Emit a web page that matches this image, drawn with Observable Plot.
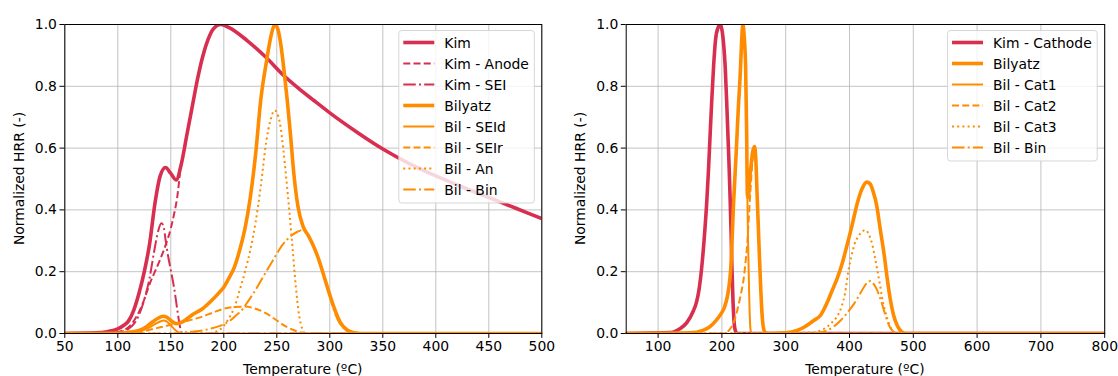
<!DOCTYPE html>
<html>
<head>
<meta charset="utf-8">
<script src="https://cdn.jsdelivr.net/npm/d3@7"></script>
<script src="https://cdn.jsdelivr.net/npm/@observablehq/plot@0.6"></script>
<style>
  html, body { margin: 0; padding: 0; background: #fff; }
  #wrap { display: flex; width: 1118px; height: 376px; }
  svg { font-family: "DejaVu Sans", sans-serif; }
</style>
</head>
<body>
<div id="wrap"></div>
<script>
// ---------- DATA ----------
const yTicks = [0, 0.2, 0.4, 0.6, 0.8, 1.0];
const leftXTicks = [50, 100, 150, 200, 250, 300, 350, 400, 450, 500];
const rightXTicks = [100, 200, 300, 400, 500, 600, 700, 800];
const xTitle = "Temperature (ºC)";
const yTitle = "Normalized HRR (-)";
const leftLabels = ["Kim", "Kim - Anode", "Kim - SEI", "Bilyatz", "Bil - SEId", "Bil - SEIr", "Bil - An", "Bil - Bin"];
const rightLabels = ["Kim - Cathode", "Bilyatz", "Bil - Cat1", "Bil - Cat2", "Bil - Cat3", "Bil - Bin"];

// Left panel
const kimT   = [50, 80, 90, 100, 105, 110, 115, 120, 125, 130, 135, 140, 145, 150, 155, 160, 165, 170, 175, 180, 185, 190, 197, 205, 222, 240, 255, 270, 285, 300, 325, 350, 375, 400, 425, 450, 475, 500];
const kimHRR = [0, 0.002, 0.006, 0.015, 0.025, 0.04, 0.075, 0.13, 0.2, 0.29, 0.42, 0.51, 0.537, 0.518, 0.497, 0.55, 0.64, 0.73, 0.82, 0.895, 0.95, 0.985, 1.0, 0.99, 0.948, 0.893, 0.84, 0.795, 0.754, 0.714, 0.653, 0.597, 0.55, 0.51, 0.474, 0.44, 0.406, 0.372];

const kimAnodeT   = [50, 100, 105, 110, 115, 120, 125, 130, 135, 140, 145, 150, 153, 156, 159];
const kimAnodeHRR = [0, 0.004, 0.01, 0.02, 0.04, 0.07, 0.11, 0.16, 0.2, 0.24, 0.285, 0.34, 0.385, 0.44, 0.53];

const kimSeiT   = [50, 100, 110, 115, 120, 125, 130, 134, 138, 141, 143, 145, 147.5, 150, 153, 156, 158, 160, 162, 500];
const kimSeiHRR = [0, 0.003, 0.015, 0.03, 0.06, 0.11, 0.18, 0.26, 0.33, 0.357, 0.35, 0.305, 0.25, 0.205, 0.15, 0.08, 0.035, 0.005, 0, 0];

const bilT   = [50, 100, 110, 120, 125, 130, 135, 140, 143, 146, 150, 155, 160, 165, 171, 180, 188, 195, 200, 205, 210, 215, 220, 225, 230, 235, 240, 245, 248, 251, 254, 257, 260, 263, 266, 270, 275, 280, 285, 290, 295, 300, 305, 310, 316, 322, 330, 500];
const bilHRR = [0, 0.001, 0.004, 0.01, 0.018, 0.03, 0.043, 0.053, 0.056, 0.053, 0.042, 0.032, 0.036, 0.047, 0.062, 0.08, 0.105, 0.13, 0.15, 0.18, 0.215, 0.27, 0.34, 0.44, 0.58, 0.76, 0.875, 0.97, 1.0, 0.985, 0.93, 0.845, 0.75, 0.64, 0.52, 0.41, 0.345, 0.315, 0.28, 0.235, 0.18, 0.125, 0.075, 0.035, 0.012, 0.003, 0, 0];

const bilSeidT   = [50, 115, 120, 125, 130, 135, 140, 143, 146, 149, 152, 155, 158, 162, 500];
const bilSeidHRR = [0, 0.002, 0.006, 0.012, 0.02, 0.03, 0.039, 0.042, 0.039, 0.03, 0.019, 0.009, 0.003, 0, 0];

const bilSeirT   = [50, 115, 120, 130, 140, 150, 160, 170, 180, 190, 200, 210, 220, 230, 240, 250, 260, 270, 280, 500];
const bilSeirHRR = [0, 0, 0.003, 0.012, 0.02, 0.028, 0.036, 0.045, 0.055, 0.068, 0.08, 0.086, 0.087, 0.08, 0.065, 0.042, 0.02, 0.006, 0, 0];

const bilAnT   = [50, 185, 190, 195, 200, 205, 210, 215, 220, 225, 230, 235, 240, 244, 248, 250, 253, 256, 259, 262, 265, 268, 271, 274, 277, 500];
const bilAnHRR = [0, 0, 0.003, 0.01, 0.025, 0.05, 0.085, 0.14, 0.2, 0.27, 0.36, 0.48, 0.62, 0.69, 0.722, 0.715, 0.68, 0.6, 0.5, 0.39, 0.27, 0.15, 0.06, 0.015, 0, 0];

const bilBinT   = [50, 150, 160, 170, 180, 190, 200, 206, 212, 218, 222, 228, 234, 240, 246, 250, 255, 260, 265, 270, 274, 278, 282, 286, 290, 295, 300, 305, 310, 316, 325, 500];
const bilBinHRR = [0, 0, 0.003, 0.006, 0.01, 0.018, 0.03, 0.042, 0.06, 0.08, 0.1, 0.13, 0.165, 0.2, 0.235, 0.258, 0.285, 0.305, 0.32, 0.33, 0.335, 0.325, 0.3, 0.272, 0.235, 0.18, 0.12, 0.065, 0.03, 0.01, 0, 0];

// Right panel
const kimCathT   = [50, 120, 134, 145, 155, 160, 164, 168.4, 172, 176.4, 179, 181.6, 184, 186.9, 190, 194, 197.5, 201, 203, 205.2, 207.5, 209.4, 211.3, 213, 214.5, 215.7, 217.5, 219, 221, 224, 800];
const kimCathHRR = [0, 0.003, 0.015, 0.035, 0.072, 0.1, 0.14, 0.215, 0.3, 0.43, 0.53, 0.646, 0.75, 0.862, 0.95, 0.99, 1.0, 0.97, 0.93, 0.862, 0.75, 0.646, 0.54, 0.43, 0.32, 0.215, 0.1, 0.04, 0.01, 0, 0];

const bil2T   = [50, 150, 170, 180, 190, 199, 204, 209, 214, 218.5, 222.5, 225.5, 229.2, 231, 232.8, 235, 237.2, 238.8, 239.9, 241.5, 243.5, 245.5, 248, 251, 253, 255, 257, 259, 261, 263, 265, 268, 273, 300, 318, 330, 344, 355, 365, 372, 381, 389, 396, 404, 412, 420, 427, 432, 437, 443, 448, 454, 459, 464, 469, 475, 481, 488, 800];
const bil2HRR = [0, 0.002, 0.01, 0.02, 0.04, 0.065, 0.085, 0.125, 0.215, 0.43, 0.59, 0.72, 0.86, 0.95, 1.0, 0.96, 0.86, 0.65, 0.45, 0.44, 0.5, 0.54, 0.585, 0.605, 0.57, 0.46, 0.35, 0.24, 0.14, 0.06, 0.02, 0.003, 0, 0.002, 0.01, 0.022, 0.042, 0.06, 0.1, 0.135, 0.18, 0.23, 0.285, 0.35, 0.42, 0.47, 0.49, 0.485, 0.46, 0.41, 0.34, 0.26, 0.18, 0.11, 0.06, 0.025, 0.007, 0, 0];

const cat1T   = [50, 150, 170, 180, 190, 199, 204, 209, 214, 218.5, 222.5, 225.5, 229.2, 231, 232.8, 235, 237.2, 238.8, 239.9, 241.2, 242.6, 244, 245.5, 248, 800];
const cat1HRR = [0, 0.002, 0.01, 0.02, 0.04, 0.063, 0.082, 0.12, 0.21, 0.42, 0.58, 0.71, 0.85, 0.94, 0.99, 0.955, 0.855, 0.645, 0.44, 0.28, 0.14, 0.04, 0.005, 0, 0];

const cat2T   = [50, 200, 206, 211, 216, 220, 224, 229, 234.3, 237, 239.7, 242.2, 245, 248, 251, 253, 255, 257, 259, 261, 263, 265, 268, 273, 800];
const cat2HRR = [0, 0, 0.003, 0.01, 0.025, 0.045, 0.074, 0.12, 0.18, 0.23, 0.29, 0.376, 0.47, 0.56, 0.6, 0.57, 0.46, 0.35, 0.24, 0.14, 0.06, 0.02, 0.003, 0, 0];

const cat3T   = [50, 340, 360, 372, 382, 388, 393, 398, 403, 408, 414, 420, 425, 430, 436, 440, 444, 448, 451, 455, 459, 463, 467, 472, 478, 800];
const cat3HRR = [0, 0.003, 0.015, 0.035, 0.06, 0.09, 0.13, 0.2, 0.25, 0.29, 0.315, 0.33, 0.335, 0.322, 0.285, 0.245, 0.2, 0.155, 0.117, 0.08, 0.05, 0.025, 0.01, 0.002, 0, 0];

const bin2T   = [50, 340, 355, 365, 375, 386, 396, 407, 415, 422, 428, 433, 438, 443, 447, 451, 455, 459, 463, 467, 472, 478, 800];
const bin2HRR = [0, 0, 0.004, 0.01, 0.022, 0.042, 0.066, 0.096, 0.123, 0.148, 0.165, 0.17, 0.16, 0.142, 0.12, 0.096, 0.068, 0.042, 0.022, 0.01, 0.002, 0, 0];

// ---------- STYLE ----------
const CRIMSON = "#d82f50";
const ORANGE = "#ff8c00";
const THICK = 3.6, THIN = 2.0;
const DASHED = "7,3.2", DOTTED = "2,3.2", DASHDOT = "12.5,3.2,2,3.2";
const FS = 13.9;

const leftSeries = [
  {T: kimT, V: kimHRR, color: CRIMSON, w: THICK, dash: null},
  {T: kimAnodeT, V: kimAnodeHRR, color: CRIMSON, w: THIN, dash: DASHED},
  {T: kimSeiT, V: kimSeiHRR, color: CRIMSON, w: THIN, dash: DASHDOT},
  {T: bilT, V: bilHRR, color: ORANGE, w: THICK, dash: null},
  {T: bilSeidT, V: bilSeidHRR, color: ORANGE, w: THIN, dash: null},
  {T: bilSeirT, V: bilSeirHRR, color: ORANGE, w: THIN, dash: DASHED},
  {T: bilAnT, V: bilAnHRR, color: ORANGE, w: THIN, dash: DOTTED},
  {T: bilBinT, V: bilBinHRR, color: ORANGE, w: THIN, dash: DASHDOT}
].map((s, i) => ({...s, label: leftLabels[i]}));

const rightSeries = [
  {T: kimCathT, V: kimCathHRR, color: CRIMSON, w: THICK, dash: null},
  {T: bil2T, V: bil2HRR, color: ORANGE, w: THICK, dash: null},
  {T: cat1T, V: cat1HRR, color: ORANGE, w: THIN, dash: null},
  {T: cat2T, V: cat2HRR, color: ORANGE, w: THIN, dash: DASHED},
  {T: cat3T, V: cat3HRR, color: ORANGE, w: THIN, dash: DOTTED},
  {T: bin2T, V: bin2HRR, color: ORANGE, w: THIN, dash: DASHDOT}
].map((s, i) => ({...s, label: rightLabels[i]}));

function makePanel({width, ml, mr, xDomain, xTicks, series, yLabelX}) {
  const height = 376, mt = 24, mb = 43;
  const lineMarks = series.map(s => Plot.line(s.T.map((t, i) => ({t, v: s.V[i]})), {
    x: "t", y: "v", stroke: s.color, strokeWidth: s.w,
    strokeDasharray: s.dash || undefined,
    strokeLinecap: s.dash ? "butt" : "square",
    strokeLinejoin: "round",
    curve: "monotone-x", clip: true
  }));
  const chart = Plot.plot({
    width, height, marginLeft: ml, marginRight: mr, marginTop: mt, marginBottom: mb,
    style: {fontFamily: "DejaVu Sans", fontSize: FS + "px", color: "#000", background: "transparent"},
    x: {domain: xDomain, label: null},
    y: {domain: [0, 1], label: null},
    marks: [
      Plot.gridX(xTicks, {stroke: "#b0b0b0", strokeOpacity: 0.75, strokeWidth: 1}),
      Plot.gridY(yTicks, {stroke: "#b0b0b0", strokeOpacity: 0.75, strokeWidth: 1}),
      ...lineMarks,
      Plot.axisX(xTicks, {tickSize: 4.9, tickPadding: 3, fontSize: FS, label: null, tickFormat: d => String(d), stroke: "#000", fill: "#000"}),
      Plot.axisY(yTicks, {tickSize: 4.9, tickPadding: 3, fontSize: FS, label: null, tickFormat: d3.format(".1f"), stroke: "#000", fill: "#000"}),
      Plot.frame({stroke: "#000", strokeWidth: 1})
    ]
  });
  document.getElementById("wrap").appendChild(chart);
  const svg = d3.select(chart);
  const plotL = ml, plotR = width - mr;
  // axis titles
  svg.append("text").text(xTitle)
    .attr("x", (plotL + plotR) / 2).attr("y", 369)
    .attr("text-anchor", "middle").attr("dominant-baseline", "central")
    .attr("font-size", FS + "px").attr("fill", "#000");
  svg.append("text").text(yTitle)
    .attr("transform", `translate(${yLabelX},${(mt + height - mb) / 2}) rotate(-90)`)
    .attr("text-anchor", "middle").attr("dominant-baseline", "central")
    .attr("font-size", FS + "px").attr("fill", "#000");
  // legend
  const g = svg.append("g");
  const texts = series.map(s => g.append("text").text(s.label)
    .attr("font-size", FS + "px").attr("fill", "#000")
    .attr("text-anchor", "start").attr("dominant-baseline", "central"));
  const maxW = d3.max(texts, t => t.node().getComputedTextLength());
  const boxW = 45.5 + maxW + 5.5;
  const boxTop = mt + 6.5;
  const boxR = plotR - 7;
  const boxL = boxR - boxW;
  const rowH = 21;
  const boxH = 12 + (series.length - 1) * rowH + 13.5;
  g.insert("rect", ":first-child")
    .attr("x", boxL).attr("y", boxTop).attr("width", boxW).attr("height", boxH)
    .attr("rx", 3).attr("fill", "#fff").attr("fill-opacity", 0.8)
    .attr("stroke", "#cccccc").attr("stroke-opacity", 0.8).attr("stroke-width", 1);
  series.forEach((s, i) => {
    const cy = boxTop + 12 + i * rowH;
    g.append("line").attr("x1", boxL + 4.5).attr("x2", boxL + 35.5)
      .attr("y1", cy).attr("y2", cy)
      .attr("stroke", s.color).attr("stroke-width", s.w)
      .attr("stroke-dasharray", s.dash || null)
      .attr("stroke-linecap", "butt");
    texts[i].attr("x", boxL + 45.5).attr("y", cy);
  });
}

makePanel({width: 559, ml: 64.3, mr: 17.7, xDomain: [50, 500], xTicks: leftXTicks, series: leftSeries, yLabelX: 19});
makePanel({width: 559, ml: 66.7, mr: 13.8, xDomain: [50, 800], xTicks: rightXTicks, series: rightSeries, yLabelX: 21.4});
</script>
</body>
</html>
